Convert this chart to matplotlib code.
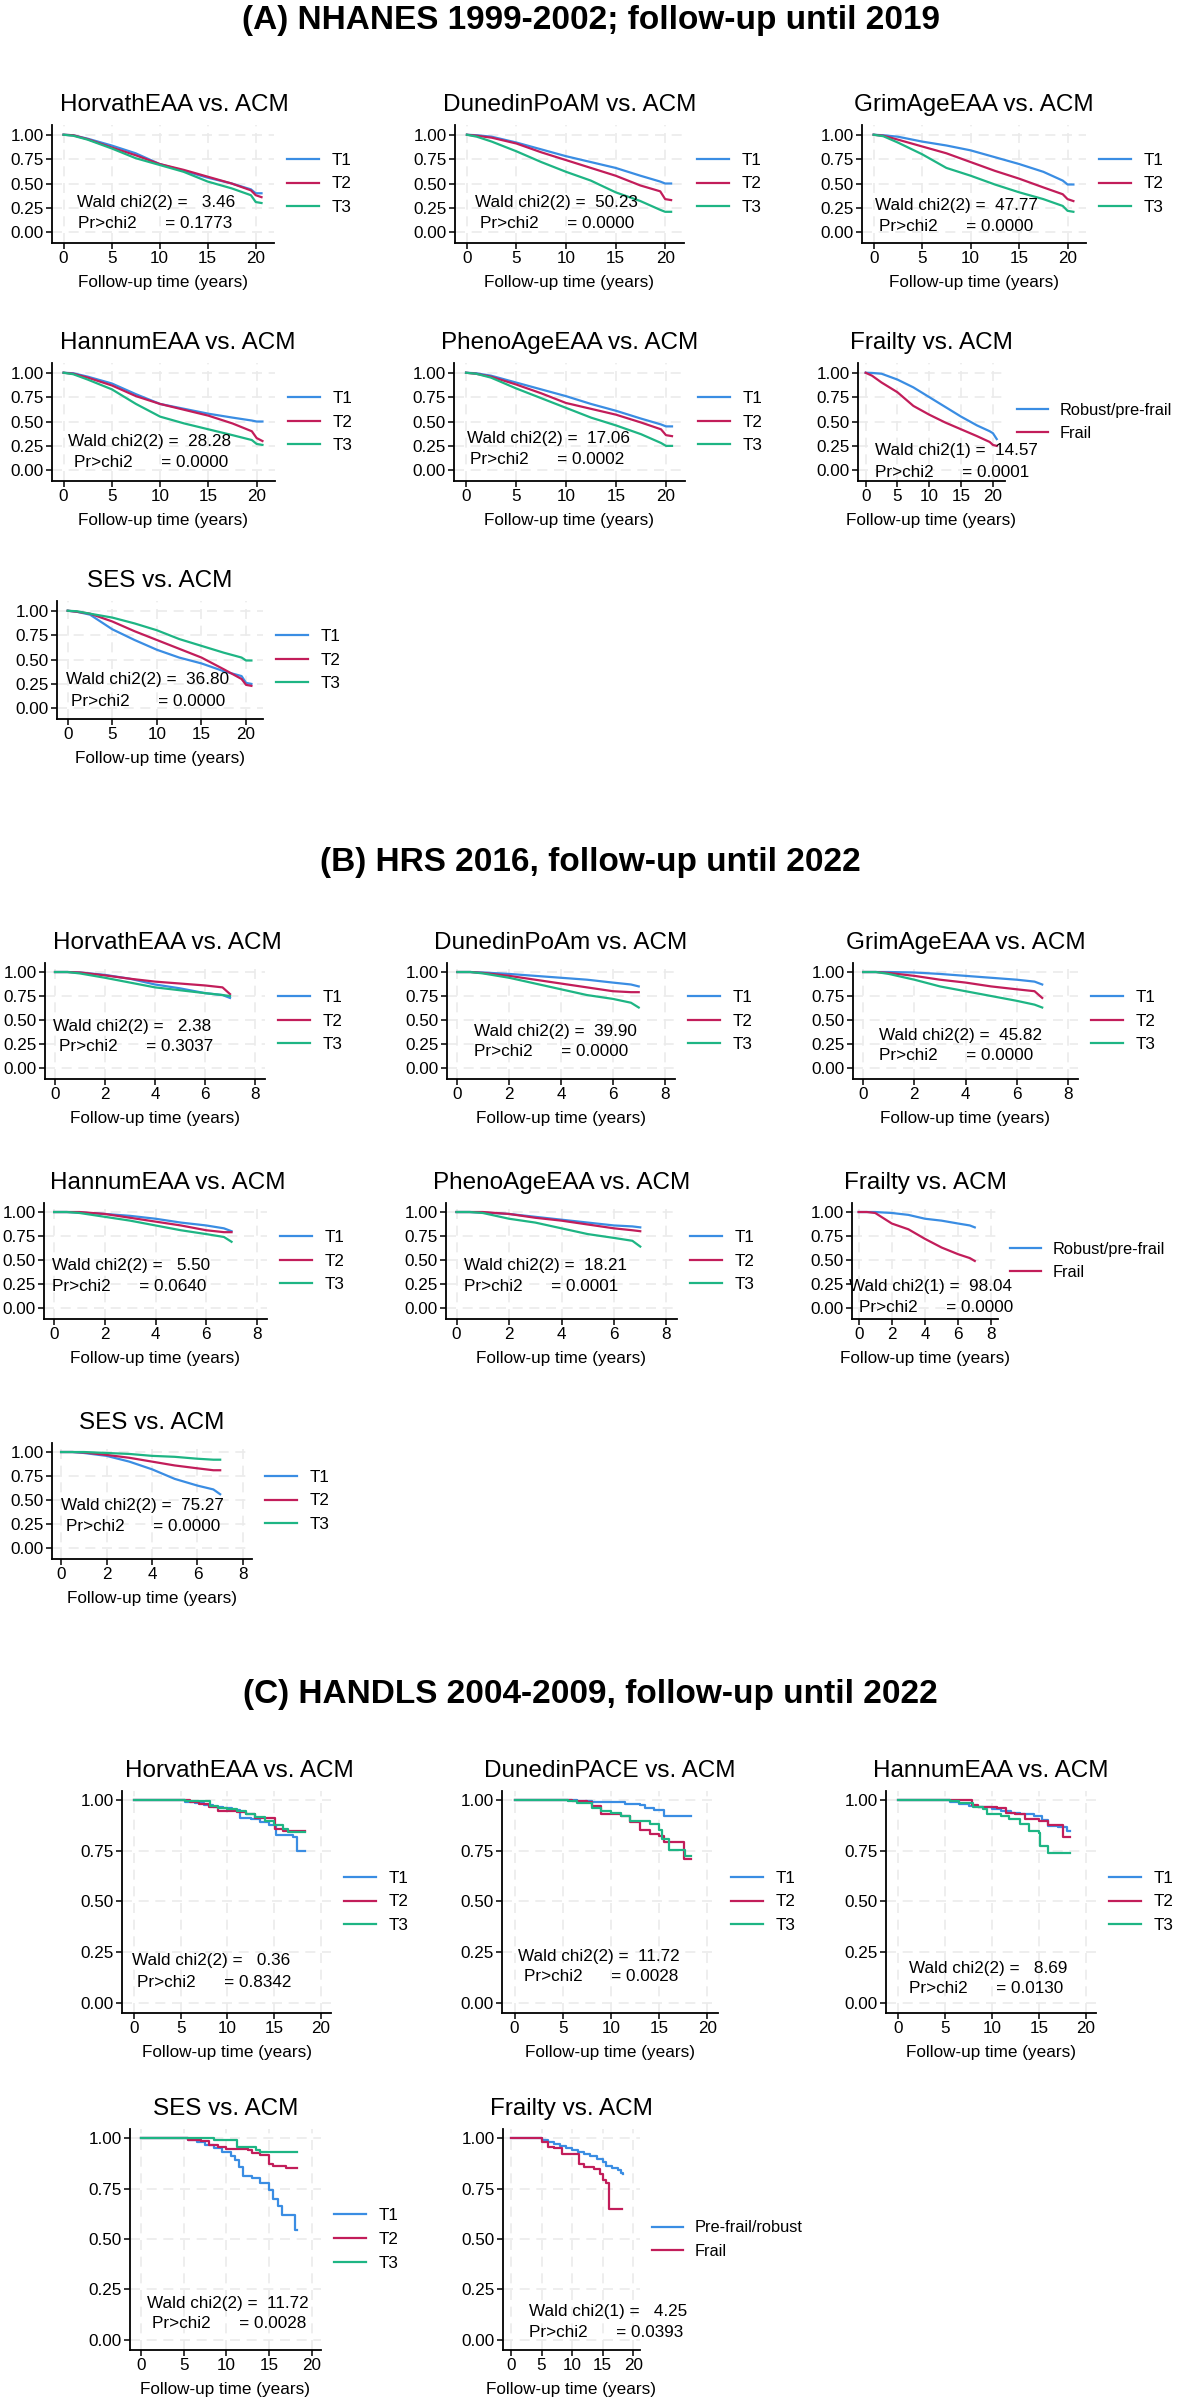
import matplotlib.pyplot as plt
from matplotlib.ticker import FormatStrFormatter

plt.rcParams['font.family'] = ['Liberation Sans', 'DejaVu Sans']

BLUE, RED, GREEN = '#3a8de3', '#c21d5a', '#1eb584'
W, H = 1181, 2400

# ---------------- data ----------------
# (A) NHANES: survival on a shared time grid (years)
a_time = [0, 1, 2.5, 5, 7.5, 10, 12.5, 15, 17.5, 19.5, 20, 20.6]
a_horvath = [[1, .995, .96, .89, .81, .70, .63, .56, .50, .44, .40, .40],
             [1, .995, .955, .87, .79, .70, .64, .57, .50, .43, .38, .36],
             [1, .99, .95, .86, .76, .69, .62, .52, .45, .38, .31, .30]]
a_dunedin = [[1, .995, .98, .92, .85, .78, .72, .66, .58, .52, .50, .50],
             [1, .99, .97, .91, .82, .74, .66, .58, .48, .42, .34, .33],
             [1, .98, .93, .83, .72, .62, .53, .41, .32, .23, .21, .21]]
a_grimage = [[1, .995, .98, .93, .89, .84, .77, .70, .62, .53, .49, .49],
             [1, .99, .95, .88, .81, .72, .63, .55, .46, .39, .34, .32],
             [1, .985, .92, .80, .66, .58, .49, .41, .34, .27, .22, .21]]
a_hannum = [[1, .995, .96, .89, .78, .68, .63, .58, .54, .51, .50, .50],
            [1, .99, .95, .87, .76, .68, .62, .56, .48, .40, .33, .30],
            [1, .985, .93, .83, .68, .55, .48, .42, .36, .31, .27, .26]]
a_pheno = [[1, .995, .97, .90, .83, .76, .68, .61, .53, .47, .45, .45],
           [1, .99, .96, .88, .79, .69, .63, .57, .49, .42, .36, .35],
           [1, .99, .95, .84, .74, .64, .54, .46, .37, .28, .25, .25]]
a_frailty = [[1, .998, .99, .93, .85, .75, .65, .55, .46, .40, .38, .32],
             [1, .97, .90, .80, .66, .57, .49, .42, .35, .29, .26, .25]]
a_ses = [[1, .99, .96, .81, .70, .60, .52, .46, .38, .33, .26, .25],
         [1, .99, .97, .89, .79, .70, .61, .52, .40, .30, .24, .23],
         [1, .995, .97, .93, .87, .80, .71, .64, .57, .52, .49, .49]]
a_titles = ['HorvathEAA vs. ACM', 'DunedinPoAM vs. ACM', 'GrimAgeEAA vs. ACM',
            'HannumEAA vs. ACM', 'PhenoAgeEAA vs. ACM', 'Frailty vs. ACM', 'SES vs. ACM']
a_df = [2, 2, 2, 2, 2, 1, 2]
a_chi2 = [3.46, 50.23, 47.77, 28.28, 17.06, 14.57, 36.80]
a_p = [0.1773, 0.0000, 0.0000, 0.0000, 0.0002, 0.0001, 0.0000]

# (B) HRS
b_time = [0, 0.5, 1, 2, 3, 4, 5, 6, 6.7, 7.0]
b_horvath = [[1, 1, .995, .97, .93, .87, .83, .78, .76, .73],
             [1, 1, .995, .965, .93, .90, .88, .86, .84, .77],
             [1, 1, .985, .94, .89, .84, .81, .78, .76, .75]]
b_dunedin = [[1, 1, .995, .98, .96, .94, .92, .89, .87, .85],
             [1, 1, .99, .96, .92, .88, .84, .80, .79, .79],
             [1, 1, .985, .94, .88, .82, .76, .72, .68, .63]]
b_grimage = [[1, 1, 1, .995, .98, .96, .94, .92, .90, .87],
             [1, 1, .99, .96, .92, .89, .85, .82, .80, .73],
             [1, 1, .98, .92, .85, .80, .75, .70, .66, .63]]
b_hannum = [[1, 1, .995, .98, .96, .93, .89, .86, .83, .80],
            [1, 1, 1, .98, .94, .90, .86, .81, .79, .79],
            [1, 1, .99, .95, .91, .86, .81, .77, .74, .69]]
b_pheno = [[1, 1, .995, .98, .95, .92, .89, .86, .85, .84],
           [1, 1, 1, .98, .94, .91, .87, .83, .81, .80],
           [1, 1, .99, .93, .89, .83, .77, .73, .70, .64]]
b_frailty = [[1, 1, 1, .99, .97, .93, .91, .88, .86, .84],
             [1, 1, .99, .88, .82, .72, .63, .56, .52, .49]]
b_ses = [[1, 1, .99, .96, .90, .82, .72, .65, .61, .56],
         [1, 1, .995, .97, .94, .90, .86, .83, .81, .81],
         [1, 1, 1, .99, .98, .96, .95, .93, .92, .92]]
b_titles = ['HorvathEAA vs. ACM', 'DunedinPoAm vs. ACM', 'GrimAgeEAA vs. ACM',
            'HannumEAA vs. ACM', 'PhenoAgeEAA vs. ACM', 'Frailty vs. ACM', 'SES vs. ACM']
b_df = [2, 2, 2, 2, 2, 1, 2]
b_chi2 = [2.38, 39.90, 45.82, 5.50, 18.21, 98.04, 75.27]
b_p = [0.3037, 0.0000, 0.0000, 0.0640, 0.0001, 0.0000, 0.0000]

# (C) HANDLS: step curves, (time, survival) at each step
c_horvath = [([0, 5.5, 6.5, 7.5, 8.5, 9.5, 10.5, 11.3, 12.5, 13.5, 14.5, 15.2, 17.0, 17.5, 18.3],
              [1, .99, .985, .975, .965, .96, .95, .91, .905, .89, .875, .83, .82, .75, .75]),
             ([0, 6, 7, 8, 9, 11, 12, 13, 15.1, 16, 18.3],
              [1, .99, .98, .965, .945, .94, .93, .91, .86, .85, .85]),
             ([0, 5.5, 8.1, 9, 10, 11, 12, 13, 14, 15, 16, 16.5, 18.3],
              [1, .995, .97, .96, .955, .945, .93, .915, .895, .875, .86, .845, .845])]
c_dunedin = [([0, 6.5, 8, 11.5, 13, 13.5, 14.5, 15.5, 18.3],
              [1, .995, .99, .98, .975, .96, .95, .92, .92]),
             ([0, 6, 7.5, 8, 9, 11, 12, 13, 14, 15, 15.5, 17.6, 18.3],
              [1, .995, .99, .97, .93, .92, .89, .855, .835, .825, .795, .71, .71]),
             ([0, 5.5, 6.5, 8, 9, 10, 11, 12, 14, 15, 15.3, 16.0, 17.7, 18.3],
              [1, .995, .985, .96, .945, .935, .92, .895, .88, .855, .81, .755, .725, .725])]
c_hannum = [([0, 5.5, 6.5, 7.5, 8.5, 10, 11, 12, 13, 14.5, 15.3, 16, 17, 18, 18.3],
             [1, .99, .98, .97, .965, .955, .945, .935, .93, .92, .90, .87, .865, .85, .85]),
            ([0, 7.9, 8.5, 10.5, 11.5, 12.5, 13.5, 15, 16, 17.6, 18.3],
             [1, .975, .965, .96, .935, .93, .905, .895, .875, .82, .82]),
            ([0, 5.5, 6.5, 8, 9, 9.5, 11, 11.8, 13, 14, 15, 15.1, 16.0, 18.3],
             [1, .995, .985, .965, .955, .93, .92, .905, .88, .85, .84, .775, .74, .74])]
c_ses = [([0, 5.5, 6.5, 7.5, 8.5, 9.5, 10.5, 11, 11.5, 12, 13, 14, 15, 15.5, 16, 16.5, 18, 18.3],
          [1, .99, .98, .965, .95, .93, .91, .89, .855, .81, .80, .775, .745, .70, .665, .62, .545, .545]),
         ([0, 5.5, 7, 8, 9, 10, 12.5, 13, 14, 15, 15.5, 17, 18.3],
          [1, .99, .985, .965, .955, .945, .94, .925, .915, .87, .86, .85, .85]),
         ([0, 8.5, 11.2, 13.5, 14, 18.3],
          [1, .99, .955, .94, .93, .93])]
c_frailty = [([0, 5, 6, 7, 8, 9, 10, 11, 12, 13, 14, 15, 15.5, 16.5, 17.5, 18, 18.3],
              [1, .99, .98, .97, .96, .95, .94, .93, .92, .91, .895, .88, .86, .85, .84, .825, .82]),
             ([0, 5, 6, 7, 8.3, 11.2, 12, 13.5, 14.5, 15, 15.5, 16.1, 18.1],
              [1, .98, .955, .95, .92, .87, .855, .845, .82, .79, .775, .65, .65])]
c_titles = ['HorvathEAA vs. ACM', 'DunedinPACE vs. ACM', 'HannumEAA vs. ACM',
            'SES vs. ACM', 'Frailty vs. ACM']
c_df = [2, 2, 2, 2, 1]
c_chi2 = [0.36, 11.72, 8.69, 11.72, 4.25]
c_p = [0.8342, 0.0028, 0.0130, 0.0028, 0.0393]

tert = ['T1', 'T2', 'T3']

# ---------------- layout (pixels) ----------------
# (left, right, top, bottom) of each plot region, title x shift
a_boxes = [(52, 274, 125, 243, 11), (455, 684, 125, 243, 0), (862, 1086, 125, 243, 0),
           (52, 275, 363, 481, 14), (454, 685, 363, 481, 0), (858, 1005, 363, 481, 0),
           (57, 263, 601, 719, 0)]
a_txt = [(1.45, .31, 1.55, .09), (0.8, .31, 1.3, .09), (0.1, .27, 0.6, .06),
         (0.5, .29, 1.1, .08), (0.1, .33, 0.4, .11), (1.5, .20, 1.5, -.02),
         (-0.2, .29, 0.35, .07)]
b_boxes = [(45, 265, 963, 1079, 12), (447, 675, 963, 1079, 0), (853, 1078, 963, 1079, 0),
           (44, 267, 1203, 1319, 12), (446, 677, 1203, 1319, 0), (852, 998, 1203, 1319, 0),
           (52, 252, 1443, 1559, 0)]
b_txt = [(-0.1, .43, 0.15, .22), (0.65, .375, 0.65, .17), (0.6, .34, 0.6, .125),
         (-0.1, .44, -0.1, .22), (0.27, .44, 0.27, .22), (-0.6, .22, 0.05, .0),
         (0.0, .44, 0.2, .22)]
c_boxes = [(122, 331, 1791, 2013, 13), (502, 718, 1791, 2013, 0), (886, 1096, 1791, 2013, 0),
           (130, 321, 2129, 2350, 0), (503, 640, 2129, 2350, 0)]
c_txt = [(-0.2, .21, 0.3, .10), (0.4, .23, 1.0, .13), (1.15, .17, 1.15, .07),
         (0.7, .18, 1.3, .08), (3.0, .14, 3.0, .035)]

FS = 12.3

fig = plt.figure(figsize=(W / 100, H / 100), dpi=100)


def panel(box, xlim, ylim, xticks, title, curves, labels, steps, df, chi2, p, tpos):
    left, right, top, bottom, tdx = box
    ax = fig.add_axes([left / W, 1 - bottom / H, (right - left) / W, (bottom - top) / H])
    cols = [BLUE, RED, GREEN]
    for (t, s), lab, col in zip(curves, labels, cols):
        ax.plot(t, s, color=col, lw=1.6, label=lab,
                drawstyle='steps-post' if steps else 'default')
    ax.set_xlim(*xlim)
    ax.set_ylim(*ylim)
    ax.set_xticks(xticks)
    ax.set_yticks([0, .25, .5, .75, 1])
    ax.yaxis.set_major_formatter(FormatStrFormatter('%.2f'))
    ax.set_axisbelow(True)
    ax.grid(True, color='#ebebeb', lw=1.2, ls=(0, (6, 4)))
    for s in ['top', 'right']:
        ax.spines[s].set_visible(False)
    for s in ['left', 'bottom']:
        ax.spines[s].set_linewidth(1.3)
    ax.tick_params(direction='out', length=4, width=1.1, labelsize=FS, pad=2)
    ax.set_xlabel('Follow-up time (years)', fontsize=FS, labelpad=6)
    ax.annotate(title, xy=(0.5, 1), xycoords='axes fraction', xytext=(tdx, 20),
                textcoords='offset pixels', ha='center', va='center', fontsize=17.5)
    x1, y1, x2, y2 = tpos
    ax.text(x1, y1, f'Wald chi2({df}) = {chi2:6.2f}', fontsize=FS, va='center')
    ax.text(x2, y2, f'Pr>chi2      = {p:.4f}', fontsize=FS, va='center')
    two = len(labels) == 2
    ax.legend(loc='center left', bbox_to_anchor=(1, 0.5), frameon=False,
              fontsize=FS - 0.5 if two else FS,
              handlelength=1.9, handletextpad=0.7, labelspacing=0.5,
              borderaxespad=0.75, borderpad=0)
    return ax


# section A
a_curves = [a_horvath, a_dunedin, a_grimage, a_hannum, a_pheno, a_frailty, a_ses]
for i, surv in enumerate(a_curves):
    labels = ['Robust/pre-frail', 'Frail'] if len(surv) == 2 else tert
    panel(a_boxes[i], (-1.2, 21.9), (-0.11, 1.10), [0, 5, 10, 15, 20], a_titles[i],
          [(a_time, s) for s in surv], labels, False, a_df[i], a_chi2[i], a_p[i], a_txt[i])

# section B
b_curves = [b_horvath, b_dunedin, b_grimage, b_hannum, b_pheno, b_frailty, b_ses]
for i, surv in enumerate(b_curves):
    labels = ['Robust/pre-frail', 'Frail'] if len(surv) == 2 else tert
    panel(b_boxes[i], (-0.4, 8.4), (-0.115, 1.094), [0, 2, 4, 6, 8], b_titles[i],
          [(b_time, s) for s in surv], labels, False, b_df[i], b_chi2[i], b_p[i], b_txt[i])

# section C
c_curves = [c_horvath, c_dunedin, c_hannum, c_ses, c_frailty]
for i, curves in enumerate(c_curves):
    labels = ['Pre-frail/robust', 'Frail'] if len(curves) == 2 else tert
    panel(c_boxes[i], (-1.3, 21.1), (-0.05, 1.045), [0, 5, 10, 15, 20], c_titles[i],
          curves, labels, True, c_df[i], c_chi2[i], c_p[i], c_txt[i])

for y, txt in [(21, '(A) NHANES 1999-2002; follow-up until 2019'),
               (863, '(B) HRS 2016, follow-up until 2022'),
               (1695, '(C) HANDLS 2004-2009, follow-up until 2022')]:
    fig.text(0.5, 1 - y / H, txt, ha='center', va='center', fontsize=24, fontweight='bold')

fig.savefig('out.png', dpi=100)
